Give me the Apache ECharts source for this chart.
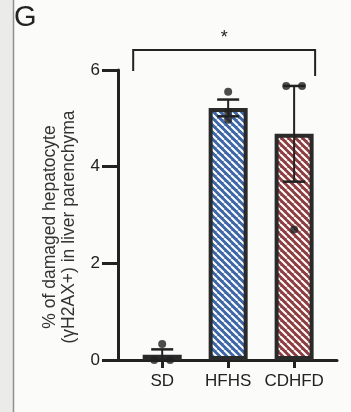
<!DOCTYPE html>
<html>
<head>
<meta charset="utf-8">
<script src="https://cdn.jsdelivr.net/npm/echarts@6/dist/echarts.min.js"></script>
<style>
  html, body { margin: 0; padding: 0; background: #fbfbfa; }
  #chart { width: 351px; height: 412px; }
</style>
</head>
<body>
<div id="chart"></div>
<script>
// Groups and per-animal measurements (% of γH2AX+ hepatocytes)
const categories = ['SD', 'HFHS', 'CDHFD'];
const sdValues = [0.33, 0, 0];
const hfhsValues = [5.55, 4.97, 5.125];
const cdhfdValues = [5.67, 5.67, 2.70];
const yTicks = [0, 2, 4, 6];
const significance = '*';

const groups = [sdValues, hfhsValues, cdhfdValues];

function mean(a) { return a.reduce((s, v) => s + v, 0) / a.length; }
function sem(a) {
  const m = mean(a);
  const sd = Math.sqrt(a.reduce((s, v) => s + (v - m) * (v - m), 0) / (a.length - 1));
  return sd / Math.sqrt(a.length);
}

// Diagonal hatch fill for the bars
function hatch(bg, fg) {
  const s = 7;
  const c = document.createElement('canvas');
  c.width = s; c.height = s;
  const ctx = c.getContext('2d');
  ctx.fillStyle = bg;
  ctx.fillRect(0, 0, s, s);
  ctx.strokeStyle = fg;
  ctx.lineWidth = 2;
  for (const o of [-s, 0, s]) {
    ctx.beginPath();
    ctx.moveTo(o, 0);
    ctx.lineTo(o + s, s);
    ctx.stroke();
  }
  return { image: c, repeat: 'repeat' };
}

const fills = ['#1e1e1e', hatch('#3c66a6', '#ffffff'), hatch('#8c3d40', '#ffffff')];
const ink = '#222222';
const font = '"Liberation Sans", Arial, sans-serif';

const barData = groups.map((g, i) => ({ value: [i, mean(g)], itemStyle: { color: fills[i] } }));
const errData = groups.map((g, i) => [i, mean(g), sem(g)]);

// Individual points; identical values within a group are spread sideways
const dotData = [];
groups.forEach((g, i) => {
  const seen = {};
  g.forEach(v => { seen[v] = (seen[v] || 0) + 1; });
  const used = {};
  g.forEach(v => {
    const n = seen[v];
    const k = used[v] = (used[v] || 0) + 1;
    dotData.push([i + (k - 1 - (n - 1) / 2) * 0.24, v]);
  });
});

const chart = echarts.init(document.getElementById('chart'), null, { renderer: 'canvas' });

chart.setOption({
  animation: false,
  backgroundColor: 'transparent',
  grid: { left: 118, right: 14, top: 70, bottom: 52 },
  xAxis: {
    type: 'value',
    min: -0.67,
    max: 2.65,
    splitLine: { show: false },
    axisLine: { show: true, onZero: false, lineStyle: { color: ink, width: 3 } },
    axisTick: { show: true, customValues: [0, 1, 2], length: 8, lineStyle: { color: ink, width: 3 } },
    axisLabel: {
      customValues: [0, 1, 2],
      formatter: v => categories[Math.round(v)],
      color: ink, fontSize: 17, fontFamily: font, margin: 13
    }
  },
  yAxis: {
    type: 'value',
    min: yTicks[0],
    max: yTicks[yTicks.length - 1],
    interval: 2,
    splitLine: { show: false },
    axisLine: { show: true, onZero: false, lineStyle: { color: ink, width: 3 } },
    axisTick: { show: true, length: 16, lineStyle: { color: ink, width: 3 } },
    axisLabel: { color: ink, fontSize: 17, fontFamily: font, margin: 18 }
  },
  series: [
    {
      type: 'bar',
      data: barData,
      barWidth: 39,
      itemStyle: { borderColor: '#2a2a2a', borderWidth: 4 },
      z: 2
    },
    {
      type: 'custom',
      data: errData,
      z: 3,
      renderItem(params, api) {
        const x = api.value(0), m = api.value(1), e = api.value(2);
        const top = api.coord([x, m + e]);
        const bot = api.coord([x, m - e]);
        const hw = 11;
        return {
          type: 'group',
          children: [
            { type: 'line', shape: { x1: top[0], y1: top[1], x2: bot[0], y2: bot[1] }, style: { stroke: ink, lineWidth: 2 } },
            { type: 'line', shape: { x1: top[0] - hw, y1: top[1], x2: top[0] + hw, y2: top[1] }, style: { stroke: ink, lineWidth: 2.5 } },
            { type: 'line', shape: { x1: bot[0] - hw, y1: bot[1], x2: bot[0] + hw, y2: bot[1] }, style: { stroke: ink, lineWidth: 2.5 } }
          ]
        };
      }
    },
    {
      type: 'scatter',
      data: dotData,
      symbolSize: 8,
      itemStyle: { color: ink },
      z: 4
    },
    {
      // Significance bracket between SD and CDHFD
      type: 'custom',
      data: [[0, 2, yTicks[yTicks.length - 1]]],
      z: 5,
      clip: false,
      renderItem(params, api) {
        const a = api.coord([api.value(0), api.value(2)]);
        const b = api.coord([api.value(1), api.value(2)]);
        const xl = a[0] - 29, xr = b[0] + 21;
        const yb = a[1] - 20;
        return {
          type: 'group',
          children: [
            { type: 'polyline', shape: { points: [[xl, yb + 21], [xl, yb], [xr, yb], [xr, yb + 26]] }, style: { stroke: ink, lineWidth: 2, fill: null } },
            { type: 'text', style: { text: significance, x: (xl + xr) / 2, y: yb - 12, align: 'center', verticalAlign: 'middle', fontSize: 18, fontFamily: font, fill: ink } }
          ]
        };
      }
    }
  ],
  graphic: [
    { type: 'rect', shape: { x: 0, y: 0, width: 13, height: 412 }, style: { fill: '#ebebea' }, silent: true },
    { type: 'line', shape: { x1: 13.5, y1: 0, x2: 13.5, y2: 412 }, style: { stroke: '#8f8f8f', lineWidth: 1.5 }, silent: true },
    { type: 'text', left: 14, top: 3, style: { text: 'G', fontSize: 29, fontFamily: font, fill: ink } },
    { type: 'text', x: 50, y: 227, rotation: Math.PI / 2, style: { text: '% of damaged hepatocyte', align: 'center', verticalAlign: 'middle', fontSize: 17.5, fontFamily: font, fill: '#333' } },
    { type: 'text', x: 69, y: 227, rotation: Math.PI / 2, style: { text: '(γH2AX+) in liver parenchyma', align: 'center', verticalAlign: 'middle', fontSize: 17.5, fontFamily: font, fill: '#333' } }
  ]
});
</script>
</body>
</html>
